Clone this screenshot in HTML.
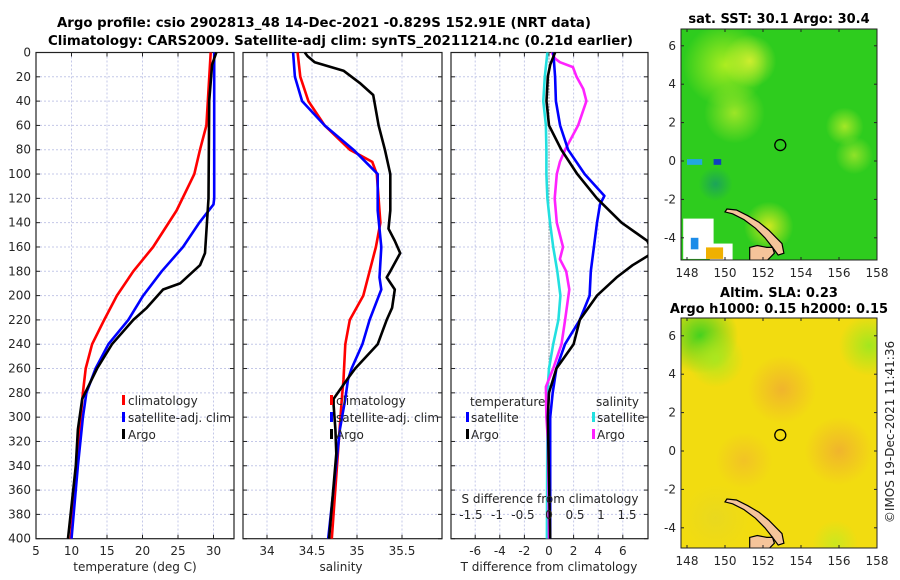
<!DOCTYPE html>
<html><head><meta charset="utf-8"><style>
html,body{margin:0;padding:0;background:#fff}
svg{display:block;font-family:"DejaVu Sans","Liberation Sans",sans-serif}
.tk{font-size:12px;fill:#262626}
.tt{font-size:13px;font-weight:bold;fill:#000}
.gr{stroke:#c4c8e8;stroke-width:1;stroke-dasharray:2,2}
</style></head><body>
<svg id="c" width="900" height="580" viewBox="0 0 900 580">
<text class="tt" x="57" y="27" textLength="534" lengthAdjust="spacingAndGlyphs">Argo profile: csio 2902813_48 14-Dec-2021 -0.829S 152.91E (NRT data)</text>
<text class="tt" x="48" y="45" textLength="585" lengthAdjust="spacingAndGlyphs">Climatology: CARS2009. Satellite-adj clim: synTS_20211214.nc (0.21d earlier)</text>
<g id="g"></g>
</svg>
<script>
// ---------- data ----------
const depthTicks=[0,20,40,60,80,100,120,140,160,180,200,220,240,260,280,300,320,340,360,380,400];
const tempTicks=[5,10,15,20,25,30];
const salTicks=[34,34.5,35,35.5];
const tdTicks=[-6,-4,-2,0,2,4,6];
const sdTicks=[-1.5,-1,-0.5,0,0.5,1,1.5];
const tdTickLabels=["-6","-4","-2","0","2","4","6"];
const sdTickLabels=["-1.5","-1","-0.5","0","0.5","1","1.5"];

const tClimD=[0,60,80,100,130,160,180,200,220,240,260,280,300,340,400];
const tClimV=[29.6,29.0,28.1,27.3,24.8,21.5,18.7,16.4,14.6,12.9,12.0,11.6,11.3,10.8,9.9];
const tSatD=[0,120,125,140,160,180,200,220,240,260,280,300,340,400];
const tSatV=[30.1,30.1,30.0,28.0,25.7,22.7,20.1,18.0,15.2,13.4,12.1,11.6,10.9,10.0];
const tArgoD=[0,10,40,120,165,175,190,195,210,220,240,260,285,310,340,400];
const tArgoV=[30.4,29.8,29.4,29.3,28.8,28.1,25.3,22.9,20.6,18.7,15.7,13.6,11.5,10.9,10.6,9.5];

const sClimD=[0,20,40,60,80,90,100,140,160,200,220,240,269,286,400];
const sClimV=[34.34,34.37,34.46,34.64,34.92,35.17,35.22,35.26,35.21,35.07,34.92,34.87,34.85,34.83,34.72];
const sSatD=[0,20,40,60,80,100,130,160,185,195,220,240,260,269,285,310,400];
const sSatV=[34.29,34.31,34.39,34.64,34.96,35.23,35.23,35.27,35.25,35.27,35.14,35.06,34.94,34.90,34.87,34.81,34.68];
const sArgoD=[0,3,8,15,25,35,60,80,100,130,145,155,165,180,185,195,210,220,240,260,269,285,290,310,330,400];
const sArgoV=[34.42,34.45,34.53,34.85,35.03,35.18,35.24,35.31,35.37,35.37,35.35,35.42,35.48,35.37,35.33,35.42,35.39,35.33,35.23,34.98,34.89,34.74,34.74,34.76,34.77,34.69];

const dTSatD=[0,20,40,60,80,100,118,125,140,160,180,200,220,240,260,280,300,400];
const dTSatV=[0.35,0.5,0.56,0.9,1.55,2.9,4.5,4.15,3.9,3.65,3.4,3.3,2.5,1.3,0.6,0.3,0.1,0.1];
const dTArgoD=[0,10,20,40,60,80,100,120,140,155,165,175,185,200,220,240,260,280,300,400];
const dTArgoV=[0.5,0.1,-0.1,-0.2,0,1.0,2.3,3.9,5.9,8.0,8.4,6.8,5.5,3.9,2.5,2.0,0.6,0,-0.1,0.1];
const dSSatD=[0,20,40,60,80,100,120,140,160,180,200,220,240,260,280,300,400];
const dSSatV=[-0.03,-0.08,-0.11,-0.06,-0.05,-0.05,-0.03,0.02,0.08,0.16,0.22,0.18,0.08,0.0,-0.03,-0.03,-0.04];
const dSArgoD=[0,5,8,12,20,30,40,60,80,90,100,120,140,160,170,180,195,220,240,260,275,300,320,400];
const dSArgoV=[0.05,0.12,0.21,0.46,0.53,0.66,0.72,0.56,0.31,0.21,0.15,0.11,0.15,0.27,0.21,0.33,0.39,0.31,0.24,0.08,-0.06,-0.05,-0.02,0];

const lonTicks=[148,150,152,154,156,158];
const latTicks=[-4,-2,0,2,4,6];
const argoLon=152.91, argoLat=0.83;
const islandLon=[150.1,150.6,151.2,151.8,152.3,152.7,153.0,153.1,152.8,152.5,152.1,151.6,151.0,150.4,150.0];
const islandLat=[-2.5,-2.55,-2.85,-3.2,-3.6,-4.0,-4.3,-4.8,-4.9,-4.5,-4.0,-3.5,-3.05,-2.75,-2.65];
const nbLon=[151.3,151.7,152.2,152.5,152.6,152.4,152.2,151.3];
const nbLat=[-4.5,-4.4,-4.5,-4.5,-4.8,-5.0,-5.2,-5.2];

// ---------- helpers ----------
const NS="http://www.w3.org/2000/svg";
const G=document.getElementById('g');
function mk(tag,attrs,parent){const e=document.createElementNS(NS,tag);for(const k in attrs)e.setAttribute(k,attrs[k]);(parent||G).appendChild(e);return e;}
const Y0=52.5, YS=1.2155;
const yD=d=>Y0+d*YS;
const xT=t=>36+(t-5)*7.1;
const xS=s=>267+(s-34)*90;
const xdT=t=>549+t*12.3;
const xdS=s=>549+s*52;

function frame(x0,x1,name,vgrid){
  const fg=mk('g',{});
  
  
  depthTicks.forEach(d=>{if(d>0&&d<400){mk('line',{x1:x0,x2:x1,y1:yD(d),y2:yD(d),class:'gr'},fg);}});
  vgrid.forEach(x=>{if(x>x0+1&&x<x1-1)mk('line',{x1:x,x2:x,y1:yD(0),y2:yD(400),class:'gr'},fg);});
  depthTicks.forEach(d=>{mk('line',{x1:x0,x2:x0+4,y1:yD(d),y2:yD(d),stroke:'#222'},fg);mk('line',{x1:x1,x2:x1-4,y1:yD(d),y2:yD(d),stroke:'#222'},fg);});
  vgrid.forEach(x=>{mk('line',{x1:x,x2:x,y1:yD(0),y2:yD(0)+4,stroke:'#222'},fg);mk('line',{x1:x,x2:x,y1:yD(400),y2:yD(400)-4,stroke:'#222'},fg);});
  mk('rect',{x:x0,y:yD(0),width:x1-x0,height:yD(400)-yD(0),fill:'none',stroke:'#222','stroke-width':1.2},fg);
  return fg;
}
function line(ds,vs,xf,color,name,clip){
  const pts=ds.map((d,i)=>xf(vs[i]).toFixed(1)+','+yD(d).toFixed(1)).join(' ');
  const p=mk('polyline',{points:pts,fill:'none',stroke:color,'stroke-width':2.6,'stroke-linejoin':'round'});
  if(clip)p.setAttribute('clip-path','url(#'+clip+')');
  
  
}
function txt(x,y,s,anchor,cls,name,extra){
  const t=mk('text',Object.assign({x:x,y:y,'text-anchor':anchor||'start',class:cls||'tk'},extra||{}));
  t.textContent=s;
  
  
  return t;
}
function legendMark(x,y,color){mk('rect',{x:x,y:y-9,width:3,height:10,fill:color});}

// ---------- panel 1: temperature ----------
frame(36,234,'temperature-panel',tempTicks.map(xT));
depthTicks.forEach(d=>txt(31,yD(d)+4,String(d),'end','tk','depth-tick-label'));
tempTicks.forEach(t=>txt(xT(t),555,String(t),'middle','tk','temp-tick-label'));
txt(135,571,'temperature (deg C)','middle','tk','temp-axis-title');
line(tClimD,tClimV,xT,'#ff0000','temp-climatology-line');
line(tSatD,tSatV,xT,'#0000ff','temp-satellite-line');
line(tArgoD,tArgoV,xT,'#000000','temp-argo-line');
legendMark(122,404,'#ff0000');legendMark(122,421,'#0000ff');legendMark(122,438,'#000');
txt(128,405,'climatology','start','tk','legend-climatology');
txt(128,422,'satellite-adj. clim','start','tk','legend-satellite-adj');
txt(128,439,'Argo','start','tk','legend-argo');

// ---------- panel 2: salinity ----------
frame(243,442,'salinity-panel',salTicks.map(xS));
salTicks.forEach(s=>txt(xS(s),555,String(s),'middle','tk','sal-tick-label'));
txt(341,571,'salinity','middle','tk','sal-axis-title');
line(sClimD,sClimV,xS,'#ff0000','sal-climatology-line');
line(sSatD,sSatV,xS,'#0000ff','sal-satellite-line');
line(sArgoD,sArgoV,xS,'#000000','sal-argo-line');
legendMark(330,404,'#ff0000');legendMark(330,421,'#0000ff');legendMark(330,438,'#000');
txt(336,405,'climatology','start','tk','legend2-climatology');
txt(336,422,'satellite-adj. clim','start','tk','legend2-satellite-adj');
txt(336,439,'Argo','start','tk','legend2-argo');

// ---------- panel 3: differences ----------
const defs=mk('defs',{});
const cp=mk('clipPath',{id:'p3clip'},defs);
mk('rect',{x:451,y:yD(0),width:197,height:yD(400)-yD(0)},cp);
frame(451,648,'difference-panel',tdTicks.map(xdT));
mk('line',{x1:549,x2:549,y1:yD(0),y2:yD(400),stroke:'#555','stroke-dasharray':'1,2'});
line(dSSatD,dSSatV,xdS,'#22e0e0','sal-diff-satellite-line','p3clip');
line(dSArgoD,dSArgoV,xdS,'#ff22ff','sal-diff-argo-line','p3clip');
line(dTSatD,dTSatV,xdT,'#0000ff','temp-diff-satellite-line','p3clip');
line(dTArgoD,dTArgoV,xdT,'#000000','temp-diff-argo-line','p3clip');
tdTicks.forEach((t,i)=>txt(xdT(t),555,tdTickLabels[i],'middle','tk','tdiff-tick-label'));
txt(549,571,'T difference from climatology','middle','tk','tdiff-axis-title');
sdTicks.forEach((s,i)=>txt(xdS(s),519,sdTickLabels[i],'middle','tk','sdiff-tick-label'));
txt(550,503,'S difference from climatology','middle','tk','sdiff-axis-title');
txt(470,406,'temperature','start','tk','legend3-temperature-header');
txt(596,406,'salinity','start','tk','legend3-salinity-header');
legendMark(466,421,'#0000ff');legendMark(466,438,'#000');
legendMark(592,421,'#22e0e0');legendMark(592,438,'#ff22ff');
txt(471,422,'satellite','start','tk','legend3-temp-satellite');
txt(471,439,'Argo','start','tk','legend3-temp-argo');
txt(597,422,'satellite','start','tk','legend3-sal-satellite');
txt(597,439,'Argo','start','tk','legend3-sal-argo');

// ---------- maps ----------
const MX0=681,MX1=877;
const mxL=l=>687+(l-148)*19.0;
function drawMap(top,bottom,lat0y,name,title1,title2,colors){
  const my=la=>lat0y-la*19.2;
  const mg=mk('g',{});
  
  
  const id=name+'-clip';
  const c=mk('clipPath',{id:id},defs);
  mk('rect',{x:MX0,y:top,width:MX1-MX0,height:bottom-top},c);
  const inner=mk('g',{'clip-path':'url(#'+id+')'},mg);
  mk('rect',{x:MX0,y:top,width:MX1-MX0,height:bottom-top,fill:colors.base},inner);
  colors.blobs.forEach(b=>{
    const gid=name+'-g'+b.join('_').replace(/[^0-9a-z]/gi,'');
    const rg=mk('radialGradient',{id:gid},defs);
    mk('stop',{offset:'0%','stop-color':b[3],'stop-opacity':0.9},rg);
    mk('stop',{offset:'100%','stop-color':b[3],'stop-opacity':0},rg);
    mk('ellipse',{cx:mxL(b[0]),cy:my(b[1]),rx:b[2]*19,ry:b[2]*19,fill:'url(#'+gid+')'},inner);
  });
  (colors.rects||[]).forEach(r=>mk('rect',{x:mxL(r[0]),y:my(r[1]),width:r[2]*19,height:r[3]*19.2,fill:r[4]},inner));
  mk('polygon',{points:islandLon.map((l,i)=>mxL(l).toFixed(1)+','+my(islandLat[i]).toFixed(1)).join(' '),fill:'#f5c49a',stroke:'#000','stroke-width':1.2},inner);
  mk('polygon',{points:nbLon.map((l,i)=>mxL(l).toFixed(1)+','+my(nbLat[i]).toFixed(1)).join(' '),fill:'#f5c49a',stroke:'#000','stroke-width':1.2},inner);
  const ac=mk('circle',{cx:mxL(argoLon),cy:my(argoLat),r:5.5,fill:'none',stroke:'#000','stroke-width':1.3},mg);
  
  
  mk('rect',{x:MX0,y:top,width:MX1-MX0,height:bottom-top,fill:'none',stroke:'#222'},mg);
  lonTicks.forEach(l=>{mk('line',{x1:mxL(l),x2:mxL(l),y1:bottom,y2:bottom-3,stroke:'#222'},mg);mk('line',{x1:mxL(l),x2:mxL(l),y1:top,y2:top+3,stroke:'#222'},mg);txt(mxL(l),bottom+17,String(l),'middle','tk','lon-tick-label');});
  latTicks.forEach(la=>{mk('line',{x1:MX0,x2:MX0+3,y1:my(la),y2:my(la),stroke:'#222'},mg);mk('line',{x1:MX1,x2:MX1-3,y1:my(la),y2:my(la),stroke:'#222'},mg);txt(MX0-5,my(la)+4,String(la),'end','tk','lat-tick-label');});
  if(title2){txt(779,top-21,title1,'middle','tt','map-title');txt(779,top-5,title2,'middle','tt','map-subtitle');}
  else txt(779,top-6,title1,'middle','tt','map-title');
}
drawMap(29,260,161,'sst-map','sat. SST: 30.1 Argo: 30.4',null,{base:'#2ecc1e',
  blobs:[[150,5,2.2,'#b8f020'],[151.3,5.2,1.4,'#d8f030'],[150.5,2.5,1.6,'#a8e828'],[156.3,1.8,1,'#b0ea28'],[152.3,-3.4,1.3,'#e0ec20'],[156.8,0.3,1,'#9ae42a'],[149.5,-1.2,0.9,'#1aa060']],
  rects:[[147.8,-3.0,1.6,2.1,'#ffffff'],[149.2,-4.3,1.2,0.9,'#ffffff'],[148.2,-4.0,0.4,0.6,'#1c8ce8'],[149,-4.5,0.9,0.6,'#f0b000'],[148,0.1,0.8,0.3,'#22a8e0'],[149.4,0.1,0.4,0.3,'#1040c0']]});
drawMap(318,548,451,'sla-map','Altim. SLA: 0.23','Argo h1000: 0.15 h2000: 0.15',{base:'#f2dc10',
  blobs:[[148.7,6.0,2.0,'#30d020'],[149.5,4.8,1.5,'#a8e820'],[157.6,5.5,1.6,'#9ae820'],[153,3.2,1.8,'#f0b030'],[156,0,1.8,'#f0b030'],[151,-0.5,1.5,'#f2c028'],[155.8,-4.8,1.2,'#c8e820'],[149.5,-3.5,1.8,'#e8d820']]});
txt(0,0,'©IMOS 19-Dec-2021 11:41:36','middle','tk','copyright-timestamp',{transform:'translate(894,432) rotate(-90)','font-size':'13'});
</script>
</body></html>
